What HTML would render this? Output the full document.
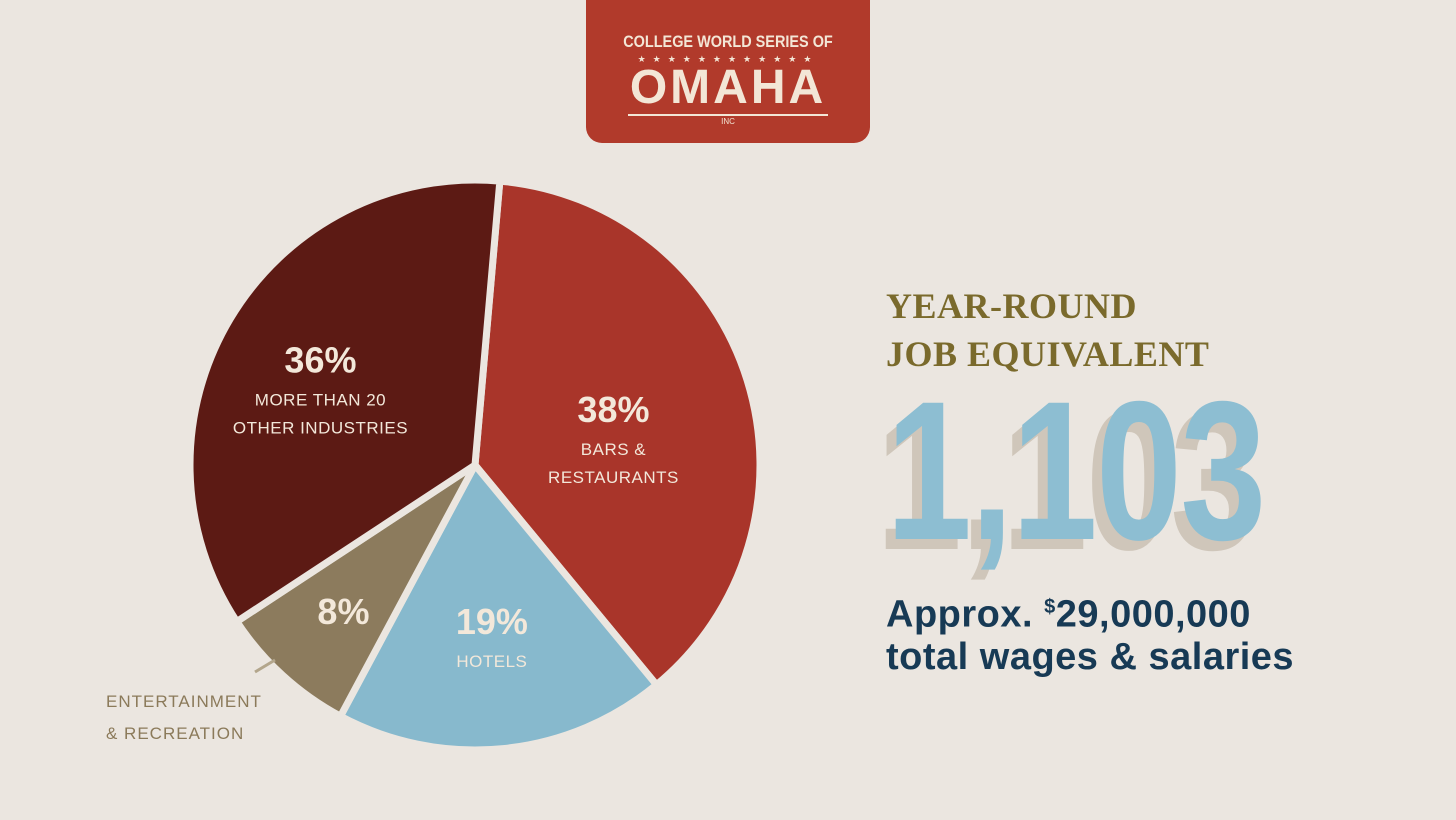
<!DOCTYPE html>
<html><head><meta charset="utf-8"><style>
body{margin:0;width:1456px;height:820px;background:#ebe6e0;overflow:hidden;position:relative;font-family:"Liberation Sans",sans-serif}
.logo{position:absolute;left:586px;top:0;width:284px;height:143px;background:#b13a2b;border-radius:0 0 16px 16px;color:#f3e6d6;text-align:center}
.abs{position:absolute}
.big{font-family:'Liberation Sans',sans-serif;font-weight:bold;font-size:198px;line-height:198px;letter-spacing:-2px;transform:scaleX(0.78);transform-origin:0 0;white-space:nowrap}
</style></head><body>
<div class="logo">
 <div class="abs" style="left:0;right:0;top:32px;font-size:17px;font-weight:bold;white-space:nowrap;transform:scaleX(0.85)">COLLEGE WORLD SERIES OF</div>
 <div class="abs" style="left:0;right:0;top:54px;font-size:9px;letter-spacing:7px">★★★★★★★★★★★★</div>
 <div class="abs" style="left:0;right:0;top:60px;font-size:48px;font-weight:bold;letter-spacing:3px">OMAHA</div>
 <div class="abs" style="left:42px;right:42px;top:114px;border-top:2px solid #f3e6d6"></div>
 <div class="abs" style="left:0;right:0;top:117px;font-size:8px">INC</div>
</div>
<svg id="pie" class="abs" style="left:0;top:0" width="1456" height="820"></svg>
<div class="abs" style="left:886px;top:282px;font-family:'Liberation Serif',serif;font-weight:bold;font-size:36px;line-height:48px;color:#7a6a2c;letter-spacing:0.5px">YEAR-ROUND<br>JOB EQUIVALENT</div>
<div class="abs big" style="left:876px;top:382px;color:#cfc6ba">1,103</div>
<div class="abs big" style="left:886px;top:372px;color:#8dbed2">1,103</div>
<div class="abs" style="left:886px;top:586px;font-weight:bold;font-size:38px;line-height:42px;color:#173a55;white-space:nowrap;letter-spacing:0.5px">Approx. <sup style="font-size:20px">$</sup>29,000,000<br>total wages &amp; salaries</div>
<div class="abs" style="left:106px;top:686px;font-size:17px;line-height:32px;color:#8b7a5a;letter-spacing:1px">ENTERTAINMENT<br>&amp; RECREATION</div>
<script>
const categories=["Bars & Restaurants","Hotels","Entertainment & Recreation","More than 20 other industries"];
const values=[38,19,8,36];
const pctLabels=["38%","19%","8%","36%"];
const subLabels=[["BARS &","RESTAURANTS"],["HOTELS"],[],["MORE THAN 20","OTHER INDUSTRIES"]];
const colors=["#a9352a","#87b9cd","#8c7b5d","#5c1a14"];
const svg=document.getElementById('pie');const NS="http://www.w3.org/2000/svg";
const cx=475,cy=465,R=285,start=5;
const labelR=[145,170,195,180];
const total=values.reduce((a,b)=>a+b,0);
let a0=start;
const pt=(deg,r)=>[cx+r*Math.sin(deg*Math.PI/180),cy-r*Math.cos(deg*Math.PI/180)];
values.forEach((v,i)=>{
 const a1=a0+v/total*360;
 const p0=pt(a0,R),p1=pt(a1,R);
 const path=document.createElementNS(NS,'path');
 path.setAttribute('d',`M${cx},${cy}L${p0[0]},${p0[1]}A${R},${R} 0 ${a1-a0>180?1:0} 1 ${p1[0]},${p1[1]}Z`);
 path.setAttribute('fill',colors[i]);path.setAttribute('stroke','#ebe6e0');path.setAttribute('stroke-width','7');
 
 
 svg.appendChild(path);
 const mid=(a0+a1)/2;
 const c=pt(mid,labelR[i]);
 const t=document.createElementNS(NS,'text');
 t.setAttribute('x',c[0]);t.setAttribute('y',c[1]+(subLabels[i].length?0:15));t.setAttribute('text-anchor','middle');
 t.setAttribute('fill','#f3e8da');t.setAttribute('font-size','36');t.setAttribute('font-weight','bold');t.setAttribute('font-family','Liberation Sans, sans-serif');
 t.textContent=pctLabels[i];
 
 
 svg.appendChild(t);
 subLabels[i].forEach((s,j)=>{
  const u=document.createElementNS(NS,'text');
  u.setAttribute('x',c[0]);u.setAttribute('y',c[1]+33+j*28);u.setAttribute('text-anchor','middle');
  u.setAttribute('fill','#f3e8da');u.setAttribute('font-size','17');u.setAttribute('font-family','Liberation Sans, sans-serif');u.setAttribute('letter-spacing','0.5');
  u.textContent=s;
  
  
  svg.appendChild(u);
 });
 a0=a1;
});
const ln=document.createElementNS(NS,'line');
ln.setAttribute('x1',255);ln.setAttribute('y1',672);ln.setAttribute('x2',275);ln.setAttribute('y2',660);ln.setAttribute('stroke','#b3a68c');ln.setAttribute('stroke-width','3');


svg.appendChild(ln);
</script>
</body></html>
